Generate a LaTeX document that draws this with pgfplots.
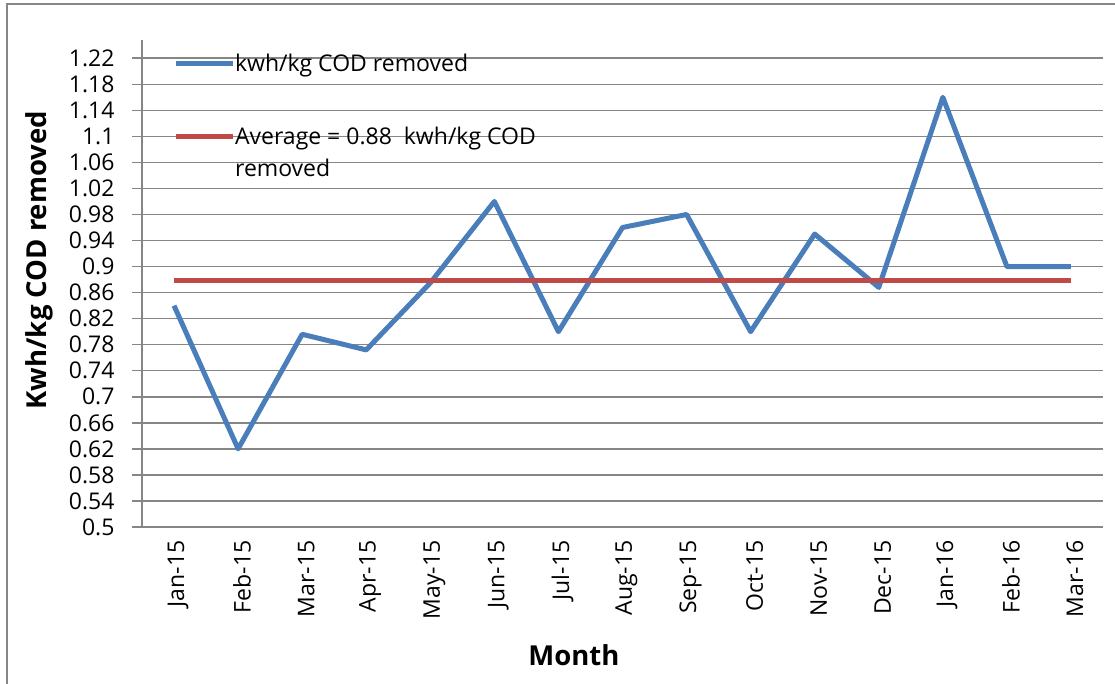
\documentclass[border=0pt]{standalone}
\usepackage{fontspec}
\setmainfont{Open Sans}
\usepackage{pgfplots}
\pgfplotsset{compat=1.18}
\definecolor{bl}{HTML}{4A7EBB}
\definecolor{rd}{HTML}{BE4B48}
\definecolor{gr}{HTML}{868686}
\pgfplotstableread{
x y
0 0.84
1 0.62
2 0.796
3 0.772
4 0.875
5 1.0
6 0.80
7 0.96
8 0.98
9 0.80
10 0.95
11 0.868
12 1.16
13 0.90
14 0.90
}\kwh
\pgfplotstableread{
x y
0 0.878
14 0.878
}\avg
\begin{document}
\begin{tikzpicture}
\useasboundingbox (0,0) rectangle (1115pt,683pt);
\draw[gr, line width=1.5pt] (7pt,-5pt) -- (7pt,679pt) -- (1120pt,679pt);
\begin{axis}[
 at={(142pt,156pt)}, anchor=south west,
 scale only axis, width=961pt, height=487pt,
 xmin=-0.5, xmax=14.5, ymin=0.5, ymax=1.248,
 xtick={0,...,14},
 xticklabels={Jan-15,Feb-15,Mar-15,Apr-15,May-15,Jun-15,Jul-15,Aug-15,Sep-15,Oct-15,Nov-15,Dec-15,Jan-16,Feb-16,Mar-16},
 ytick={0.5,0.54,0.58,0.62,0.66,0.7,0.74,0.78,0.82,0.86,0.9,0.94,0.98,1.02,1.06,1.1,1.14,1.18,1.22},
 yticklabels={0.5,0.54,0.58,0.62,0.66,0.7,0.74,0.78,0.82,0.86,0.9,0.94,0.98,1.02,1.06,1.1,1.14,1.18,1.22},
 axis lines*=left,
 axis line style={gr, line width=1.5pt},
 ymajorgrids, grid style={gr, line width=1.5pt},
 tick align=outside, major tick length=10pt,
 ytick style={gr, line width=1.5pt},
 xtick style={draw=none},
 yticklabel style={font=\fontsize{23}{27}\selectfont, xshift=-14pt},
 xticklabel style={font=\fontsize{23}{27}\selectfont, rotate=90, anchor=east, yshift=-4pt},
 ylabel={Kwh/kg COD removed},
 ylabel style={font=\bfseries\fontsize{27.5}{32}\selectfont, at={(axis description cs:-0.107,0.548)}, anchor=center, rotate=0},
 xlabel={Month},
 xlabel style={font=\bfseries\fontsize{27.5}{32}\selectfont, at={(axis description cs:0.4495,-0.263)}, anchor=center},
 legend style={draw=none, fill=none, at={(axis description cs:0.029,0.98)}, anchor=north west,
   font=\fontsize{23}{32}\selectfont, nodes={align=left, inner xsep=0pt}, row sep=50pt},
 legend cell align=left,
 legend image code/.code={\draw[#1] (0pt,0pt) -- (57pt,0pt);},
]
\addplot[bl, line width=5pt, line join=round] table[x=x,y=y]{\kwh};
\addlegendentry{kwh/kg COD removed}
\addplot[rd, line width=5pt, legend image code/.code={\draw[rd, line width=5pt] (0pt,16pt) -- (57pt,16pt);}] table[x=x,y=y]{\avg};
\addlegendentry{Average = 0.88\ \ kwh/kg COD\\removed}
\end{axis}
\end{tikzpicture}
\end{document}
